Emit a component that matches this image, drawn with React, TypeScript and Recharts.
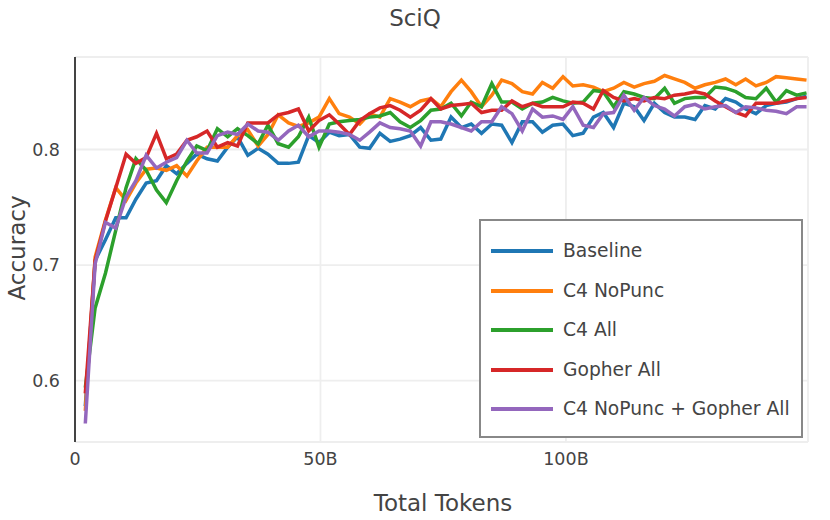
import { LineChart, Line, XAxis, YAxis, CartesianGrid } from "recharts";

// total tokens seen (billions) at each checkpoint
const tokens = [
  2.1, 4.1, 6.2, 8.3, 10.4, 12.4, 14.5, 16.6, 18.6, 20.7, 22.8, 24.8, 26.9, 29.0, 31.1, 33.1, 35.2, 37.3,
  39.3, 41.4, 43.5, 45.5, 47.6, 49.7, 51.8, 53.8, 55.9, 58.0, 60.0, 62.1, 64.2, 66.2, 68.3, 70.4, 72.5, 74.5,
  76.6, 78.7, 80.7, 82.8, 84.9, 86.9, 89.0, 91.1, 93.2, 95.2, 97.3, 99.4, 101.4, 103.5, 105.6, 107.6, 109.7, 111.8,
  113.9, 115.9, 118.0, 120.1, 122.1, 124.2, 126.3, 128.3, 130.4, 132.5, 134.6, 136.6, 138.7, 140.8, 142.8, 144.9,
  147.0, 149.0,
];

const baseline = [
  0.578, 0.704, 0.722, 0.741, 0.741, 0.757, 0.771, 0.773, 0.786, 0.779, 0.788, 0.796, 0.792, 0.79, 0.802, 0.811,
  0.795, 0.801, 0.796, 0.788, 0.788, 0.789, 0.812, 0.806, 0.815, 0.812, 0.813, 0.802, 0.801, 0.814, 0.807, 0.809,
  0.812, 0.819, 0.808, 0.809, 0.828, 0.819, 0.822, 0.814, 0.822, 0.821, 0.806, 0.824, 0.824, 0.815, 0.821, 0.822,
  0.812, 0.814, 0.828, 0.832, 0.819, 0.84, 0.837, 0.825, 0.84, 0.832, 0.828, 0.828, 0.826, 0.838, 0.835, 0.844,
  0.841, 0.835, 0.831, 0.838, 0.84, 0.841, 0.844, 0.846,
];

const c4NoPunc = [
  0.574, 0.707, 0.739, 0.767, 0.756, 0.771, 0.783, 0.784, 0.782, 0.786, 0.777, 0.79, 0.802, 0.802, 0.802, 0.812,
  0.817, 0.803, 0.813, 0.83, 0.823, 0.82, 0.823, 0.828, 0.844, 0.831, 0.828, 0.822, 0.831, 0.828, 0.844,
  0.841, 0.837, 0.842, 0.844, 0.837, 0.85, 0.86, 0.85, 0.837, 0.847, 0.86, 0.857, 0.85,
  0.848, 0.858, 0.853, 0.863, 0.855, 0.856, 0.854, 0.85, 0.853, 0.858, 0.854, 0.857,
  0.859, 0.864, 0.861, 0.858, 0.853, 0.856, 0.858, 0.861, 0.856, 0.861, 0.855, 0.858, 0.863, 0.862, 0.861, 0.86,
];

const c4All = [
  0.594, 0.663, 0.693, 0.73, 0.767, 0.792, 0.782, 0.765, 0.754, 0.773, 0.79, 0.803, 0.799, 0.818, 0.811, 0.818,
  0.812, 0.805, 0.821, 0.805, 0.802, 0.811, 0.828, 0.802, 0.822, 0.824, 0.825, 0.826, 0.828, 0.829, 0.832,
  0.824, 0.819, 0.825, 0.834, 0.835, 0.84, 0.829, 0.841, 0.837, 0.857, 0.841, 0.841, 0.835,
  0.84, 0.841, 0.845, 0.842, 0.84, 0.841, 0.851, 0.85, 0.837, 0.85, 0.848, 0.845,
  0.844, 0.853, 0.84, 0.844, 0.845, 0.845, 0.854, 0.853, 0.85, 0.845, 0.844, 0.853, 0.841, 0.851, 0.847, 0.849,
];

const gopherAll = [
  0.589, 0.704, 0.738, 0.767, 0.796, 0.788, 0.793, 0.814, 0.792, 0.796, 0.808, 0.811, 0.816, 0.802, 0.806, 0.803,
  0.823, 0.823, 0.823, 0.83, 0.832, 0.835, 0.816, 0.825, 0.83, 0.822, 0.813, 0.825, 0.831, 0.836, 0.838,
  0.834, 0.828, 0.834, 0.844, 0.835, 0.838, 0.839, 0.84, 0.832, 0.834, 0.834, 0.842, 0.837,
  0.84, 0.837, 0.837, 0.837, 0.841, 0.84, 0.835, 0.851, 0.845, 0.842, 0.844, 0.842,
  0.845, 0.844, 0.847, 0.848, 0.85, 0.848, 0.842, 0.837, 0.832, 0.829, 0.84, 0.84, 0.84, 0.842, 0.844, 0.845,
];

const c4NoPuncGopherAll = [
  0.563, 0.701, 0.737, 0.732, 0.759, 0.773, 0.795, 0.784, 0.789, 0.793, 0.808, 0.797, 0.797, 0.812, 0.815, 0.813,
  0.822, 0.816, 0.815, 0.808, 0.816, 0.821, 0.811, 0.816, 0.816, 0.815, 0.813, 0.808, 0.815, 0.823, 0.819,
  0.818, 0.816, 0.803, 0.824, 0.824, 0.822, 0.819, 0.816, 0.824, 0.824, 0.837, 0.831, 0.816, 0.835,
  0.828, 0.829, 0.826, 0.837, 0.821, 0.819, 0.831, 0.832, 0.847, 0.834, 0.845, 0.838,
  0.835, 0.829, 0.837, 0.839, 0.835, 0.837, 0.838, 0.832, 0.837, 0.836, 0.834, 0.833, 0.831, 0.837, 0.837,
];

const xTicks = [0, 50, 100];
const yTicks = [0.6, 0.7, 0.8];

const series = [
  { key: "baseline", name: "Baseline", color: "#1f77b4", values: baseline },
  { key: "c4NoPunc", name: "C4 NoPunc", color: "#ff7f0e", values: c4NoPunc },
  { key: "c4All", name: "C4 All", color: "#2ca02c", values: c4All },
  { key: "gopherAll", name: "Gopher All", color: "#d62728", values: gopherAll },
  { key: "c4NoPuncGopherAll", name: "C4 NoPunc + Gopher All", color: "#9467bd", values: c4NoPuncGopherAll },
];

const data = tokens.map((t, i) => {
  const row: Record<string, number> = { t };
  series.forEach((s) => {
    row[s.key] = s.values[i];
  });
  return row;
});

const font = "'DejaVu Sans', Verdana, sans-serif";
const textColor = "#444";

export default function App() {
  return (
    <div
      style={{
        position: "absolute",
        left: 0,
        top: 0,
        width: 830,
        height: 520,
        background: "#fff",
        fontFamily: font,
        color: textColor,
        overflow: "hidden",
      }}
    >
      <LineChart width={830} height={520} data={data} margin={{ top: 57, right: 22, left: 0, bottom: 0 }}>
        <CartesianGrid stroke="#eeeeee" strokeWidth={1.8} />
        <XAxis
          dataKey="t"
          type="number"
          domain={[0, 149.3]}
          ticks={xTicks}
          tickFormatter={(v: number) => (v === 0 ? "0" : `${v}B`)}
          axisLine={false}
          tickLine={false}
          height={78}
          tickMargin={5}
          tick={{ fill: textColor, fontSize: 17.5, fontFamily: font }}
        />
        <YAxis
          type="number"
          domain={[0.547, 0.88]}
          ticks={yTicks}
          allowDataOverflow
          tickFormatter={(v: number) => v.toFixed(1)}
          width={75}
          axisLine={{ stroke: textColor, strokeWidth: 2 }}
          tickLine={false}
          tickMargin={9}
          tick={{ fill: textColor, fontSize: 17.5, fontFamily: font }}
        />
        {series.map((s) => (
          <Line
            key={s.key}
            type="linear"
            dataKey={s.key}
            name={s.name}
            stroke={s.color}
            strokeWidth={3.5}
            dot={false}
            isAnimationActive={false}
          />
        ))}
      </LineChart>

      <div style={{ position: "absolute", left: 0, top: 4, width: 830, textAlign: "center", fontSize: 23, lineHeight: "28px" }}>
        SciQ
      </div>
      <div style={{ position: "absolute", left: 343, top: 489, width: 200, textAlign: "center", fontSize: 23, lineHeight: "28px" }}>
        Total Tokens
      </div>
      <div
        style={{
          position: "absolute",
          left: -83,
          top: 234,
          width: 200,
          height: 28,
          textAlign: "center",
          fontSize: 23,
          lineHeight: "28px",
          transform: "rotate(-90deg)",
        }}
      >
        Accuracy
      </div>

      <div
        style={{
          position: "absolute",
          left: 479,
          top: 219,
          width: 324,
          height: 219,
          boxSizing: "border-box",
          border: "2px solid #888",
          background: "#fff",
        }}
      >
        {series.map((s, i) => (
          <div key={s.key} style={{ position: "absolute", left: 0, top: 16 + i * 39.5, height: 28, width: 320 }}>
            <div style={{ position: "absolute", left: 10, top: 12, width: 62, height: 4, background: s.color }} />
            <div style={{ position: "absolute", left: 82, top: 0, fontSize: 18.7, lineHeight: "28px", whiteSpace: "nowrap" }}>
              {s.name}
            </div>
          </div>
        ))}
      </div>
    </div>
  );
}
